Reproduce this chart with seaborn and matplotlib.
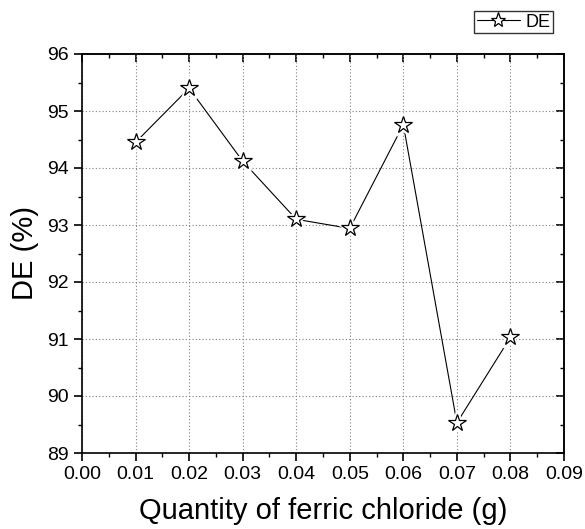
import matplotlib
matplotlib.use("Agg")
import matplotlib.pyplot as plt
import seaborn as sns
import pandas as pd
from matplotlib.ticker import MultipleLocator
from matplotlib.lines import Line2D

quantity = [0.01, 0.02, 0.03, 0.04, 0.05, 0.06, 0.07, 0.08]
de = [94.45, 95.40, 94.12, 93.10, 92.94, 94.76, 89.53, 91.03]
xticks = [0.00, 0.01, 0.02, 0.03, 0.04, 0.05, 0.06, 0.07, 0.08, 0.09]
yticks = [89, 90, 91, 92, 93, 94, 95, 96]

df = pd.DataFrame({"Quantity": quantity, "DE": de})

sns.set_theme(style="white")
plt.rcParams['font.family'] = ['Liberation Sans', 'DejaVu Sans']
plt.rcParams['text.color'] = 'black'
plt.rcParams['axes.labelcolor'] = 'black'
plt.rcParams['xtick.color'] = 'black'
plt.rcParams['ytick.color'] = 'black'

fig = plt.figure(figsize=(5.85, 5.29), dpi=100)
ax = fig.add_axes([82/585, 1-453/529, (564-82)/585, (453-54)/529])

sns.lineplot(data=df, x="Quantity", y="DE", ax=ax, color="black", lw=0.8,
             marker=None, label="_nolegend_", zorder=3)
# white halo under markers to emulate gap between line and symbol
ax.plot(df["Quantity"], df["DE"], ls="none", marker="*", ms=17,
        mfc="white", mec="white", mew=2, zorder=4)
ax.plot(df["Quantity"], df["DE"], ls="none", marker="*", ms=13,
        mfc="white", mec="black", mew=0.9, zorder=5)

ax.set_xlim(0, 0.09)
ax.set_ylim(89, 96)
ax.set_xticks(xticks)
ax.set_xticklabels([f"{t:.2f}" for t in xticks])
ax.set_yticks(yticks)
ax.xaxis.set_minor_locator(MultipleLocator(0.005))
ax.yaxis.set_minor_locator(MultipleLocator(0.5))
ax.grid(True, which="major", ls=(0, (1, 2)), color="#808080", lw=0.8)
for s in ax.spines.values():
    s.set_color("black")
    s.set_linewidth(1.2)
ax.tick_params(axis="both", which="major", direction="out", length=6, width=1.2,
               labelsize=14, colors="black", bottom=True, left=True)
ax.tick_params(axis="both", which="minor", direction="out", length=3, width=1.0,
               bottom=True, left=True)

sx = ax.secondary_xaxis("top")
sx.set_xticks(xticks)
sx.xaxis.set_minor_locator(MultipleLocator(0.005))
sx.tick_params(which="major", direction="in", length=6, width=1.2, labeltop=False)
sx.tick_params(which="minor", direction="in", length=3, width=1.0)
sy = ax.secondary_yaxis("right")
sy.set_yticks(yticks)
sy.yaxis.set_minor_locator(MultipleLocator(0.5))
sy.tick_params(which="major", direction="in", length=6, width=1.2, labelright=False)
sy.tick_params(which="minor", direction="in", length=3, width=1.0)

ax.set_xlabel("Quantity of ferric chloride (g)", fontsize=21, labelpad=10, color="black")
ax.set_ylabel("DE (%)", fontsize=21, labelpad=6, color="black")

h = Line2D([], [], color="black", lw=0.8, marker="*", ms=11, mfc="white", mec="black", mew=0.9)
leg = fig.legend([h], ["DE"], loc="upper right", bbox_to_anchor=(553/585, 1-11/529),
                 frameon=True, fancybox=False, edgecolor="black", fontsize=13,
                 handlelength=2.4, handletextpad=0.3, borderpad=0.15, borderaxespad=0)
leg.get_frame().set_linewidth(1.0)

fig.savefig("out.png", dpi=100)
